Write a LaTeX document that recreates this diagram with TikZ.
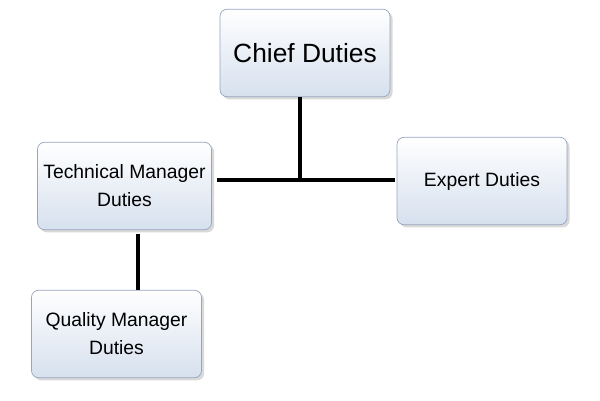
\documentclass[tikz,border=0pt]{standalone}
\usepackage{fontspec}
\setmainfont{Liberation Sans}
\usetikzlibrary{shadows}
\definecolor{boxtop}{RGB}{255,255,255}
\definecolor{boxbot}{RGB}{214,224,238}
\definecolor{boxline}{RGB}{150,165,190}
\begin{document}
\begin{tikzpicture}[x=0.02cm,y=-0.02cm,
    duty/.style={draw=boxline,rounded corners=4pt,top color=boxtop,bottom color=boxbot,
      drop shadow={shadow xshift=1.5pt,shadow yshift=-1.5pt,opacity=0.3},
      minimum width=3.4cm,minimum height=1.75cm,align=center,font=\fontsize{11}{16}\selectfont},
    link/.style={line width=2.2pt}]
    \useasboundingbox (0,0) rectangle (600,400);
    \node[duty,font=\fontsize{15}{18}\selectfont] (chief) at (305,53) {Chief Duties};
    \node[duty] (tech) at (124.5,186) {Technical Manager\\Duties};
    \node[duty] (expert) at (482,181) {Expert Duties};
    \node[duty] (quality) at (116.5,334) {Quality Manager\\Duties};

    \coordinate (join) at (300,180);
    \coordinate (techend) at (217,180);
    \coordinate (expend) at (395,180);
    \coordinate (techbot) at (138,234);
    \coordinate (qualtop) at (138,290);

    \draw[link] (300,97) -- (join);
    \draw[link] (techend) -- (expend);
    \draw[link] (techbot) -- (qualtop);
\end{tikzpicture}
\end{document}
